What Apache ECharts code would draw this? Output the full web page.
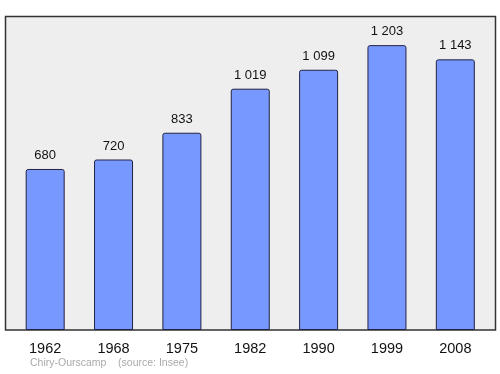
<!DOCTYPE html>
<html><head><meta charset="utf-8">
<script src="https://cdn.jsdelivr.net/npm/echarts@6/dist/echarts.min.js"></script>
<style>html,body{margin:0;padding:0;background:#fff}#c{width:500px;height:374px}</style>
</head><body><div id="c"></div>
<script>
const categories = ['1962','1968','1975','1982','1990','1999','2008'];
const population = [680, 720, 833, 1019, 1099, 1203, 1143];
const sourceText = 'Chiry-Ourscamp    (source: Insee)';

const chart = echarts.init(document.getElementById('c'), null, {renderer: 'canvas'});
const fmt = v => String(v).replace(/\B(?=(\d{3})+(?!\d))/g, ' ');
chart.setOption({
  animation: false,
  graphic: [
    {type: 'rect', shape: {x: 5.5, y: 16.5, width: 490, height: 313.5},
     style: {fill: '#eeeeee', stroke: '#333333', lineWidth: 1.5}, z: -10},
    {type: 'text', left: 30, top: 358,
     style: {text: sourceText, fill: '#aaaaaa', font: '10.5px "Liberation Sans", Arial, sans-serif'}}
  ],
  grid: {left: 11, right: 10.5, top: 16, bottom: 44},
  xAxis: {
    type: 'category', data: categories,
    axisLine: {show: false}, axisTick: {show: false},
    axisLabel: {color: '#111', fontSize: 14.5, margin: 11, fontFamily: '"Liberation Sans", Arial, sans-serif'}
  },
  yAxis: {type: 'value', min: 0, max: 1326, show: false, splitLine: {show: false}},
  series: [{
    type: 'bar', data: population, barWidth: 39,
    itemStyle: {color: '#7799ff', borderColor: '#222244', borderWidth: 1, borderRadius: [2,2,0,0]},
    label: {show: true, position: 'top', distance: 7, color: '#111', fontSize: 13,
      fontFamily: '"Liberation Sans", Arial, sans-serif', formatter: p => fmt(p.value)}
  }]
});
</script></body></html>
